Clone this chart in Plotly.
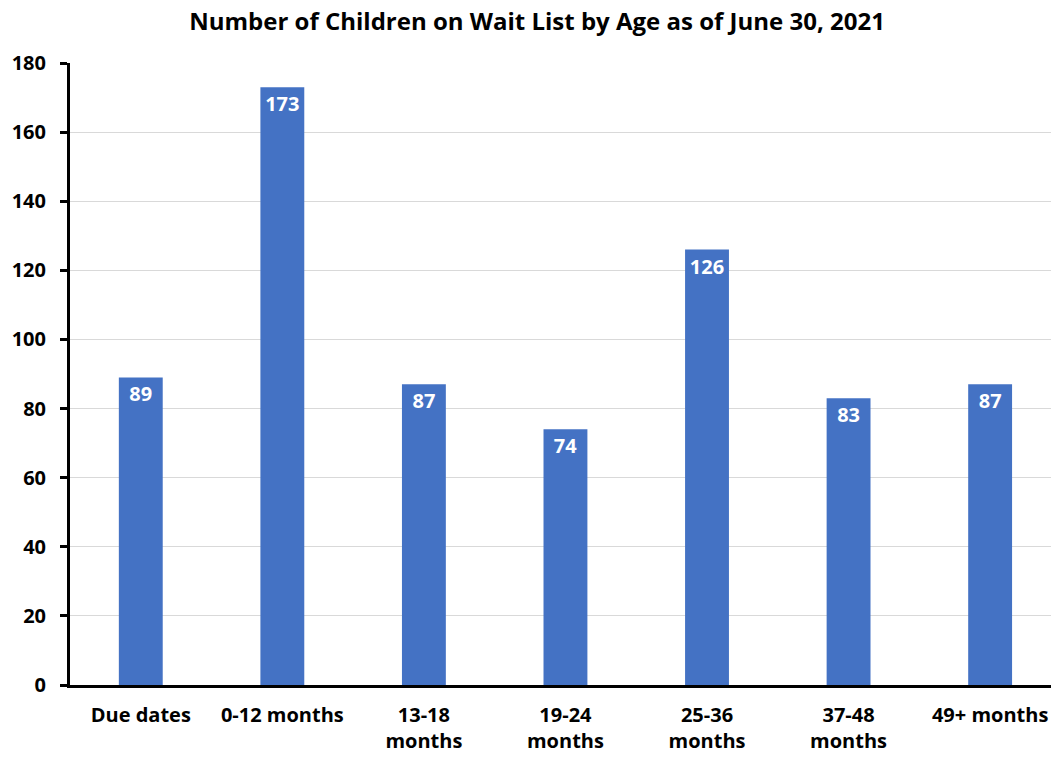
import plotly.graph_objects as go

categories = ["Due dates", "0-12 months", "13-18<br>months", "19-24<br>months",
              "25-36<br>months", "37-48<br>months", "49+ months"]
values = [89, 173, 87, 74, 126, 83, 87]
y_ticks = [0, 20, 40, 60, 80, 100, 120, 140, 160, 180]

fig = go.Figure(go.Bar(
    x=list(range(len(categories))), y=values, width=0.31,
    marker=dict(color="#4472C4", line=dict(width=0)),
    text=[str(v) for v in values], textposition="inside", insidetextanchor="end",
    textangle=0, constraintext="none",
    textfont=dict(family="Open Sans", size=20, color="white", weight="bold"),
))

fig.update_layout(
    width=1051, height=759,
    margin=dict(l=70, r=0, t=63, b=74),
    paper_bgcolor="white", plot_bgcolor="white",
    showlegend=False,
    title=dict(text="<b>Number of Children on Wait List by Age as of June 30, 2021</b>",
               x=0.511, xanchor="center", y=0.972, yanchor="middle",
               font=dict(family="Open Sans", size=24, color="black")),
    font=dict(family="Open Sans", color="black"),
)
fig.update_xaxes(
    tickmode="array", tickvals=list(range(len(categories))), ticktext=categories,
    range=[-0.5, 6.43], showgrid=False, showline=True, linecolor="black", linewidth=3,
    ticks="", tickfont=dict(size=20, color="black", weight="bold"), automargin=False,
    ticklabelstandoff=10,
)
fig.update_yaxes(
    range=[0, 180], tickvals=y_ticks, showgrid=True, gridcolor="#d9d9d9", gridwidth=1,
    showline=True, linecolor="black", linewidth=3, ticks="outside", ticklen=7,
    tickwidth=3, tickcolor="black", zeroline=False,
    tickfont=dict(size=20, color="black", weight="bold"), automargin=False,
    ticklabelstandoff=10,
)
fig.write_html("out.html")
